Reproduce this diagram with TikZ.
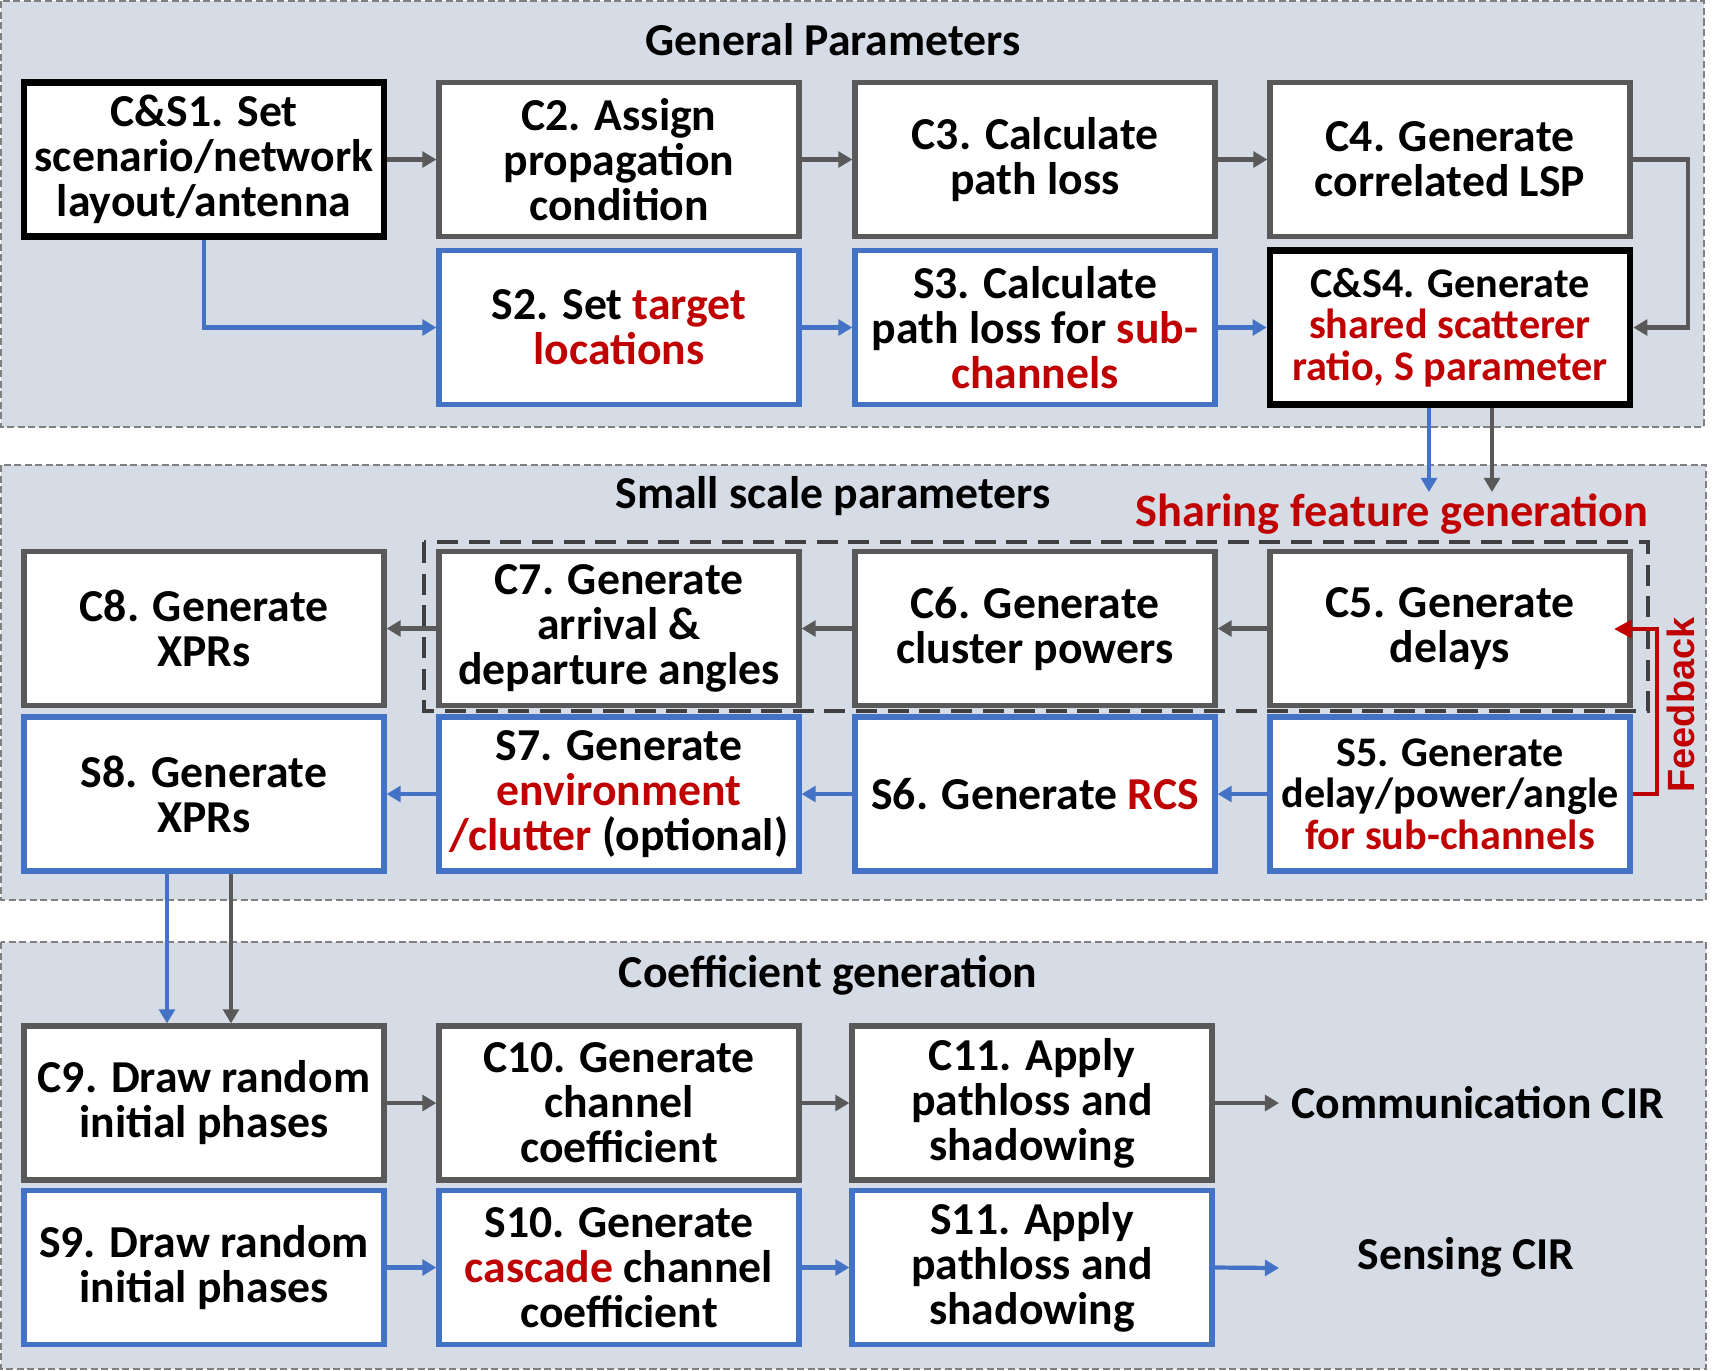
\documentclass[tikz,border=0pt]{standalone}
\usepackage{color}
\usepackage{amsmath,amssymb}
\usepackage{fontspec}
\setmainfont{Carlito}
\newfontfamily\fbfont{Liberation Sans}
\usepackage{tikz}
\usetikzlibrary{arrows.meta}

\definecolor{boxgray}{HTML}{595959}
\definecolor{boxblue}{HTML}{4472C4}
\definecolor{txtred}{HTML}{C00000}
\definecolor{panelfill}{HTML}{D6DCE5}
\definecolor{paneldash}{HTML}{808080}

\newcommand{\blockfont}{\fontsize{13}{12.8}\selectfont\bfseries}
\newcommand{\smallblockfont}{\fontsize{12}{11.8}\selectfont\bfseries}
\newcommand{\redtxt}[1]{\textcolor{txtred}{#1}}

\begin{document}
\begin{tikzpicture}[
  block/.style={draw, fill=white, line width=1.5pt, minimum width=3.60cm,
    minimum height=1.54cm, inner sep=0pt, align=center, font=\blockfont},
  cblock/.style={block, draw=boxgray},
  sblock/.style={block, draw=boxblue},
  csblock/.style={block, draw=black, line width=1.9pt},
  panel/.style={fill=panelfill, draw=paneldash, line width=0.6pt,
    dash pattern=on 2pt off 1pt},
  group/.style={draw=black!75, line width=0.9pt, dash pattern=on 6pt off 3pt},
  title/.style={font=\blockfont},
  garrow/.style={draw=boxgray, line width=1.2pt,
    -{Triangle[length=4pt,width=4.5pt]}},
  barrow/.style={draw=boxblue, line width=1.2pt,
    -{Triangle[length=4pt,width=4.5pt]}},
  vgarrow/.style={garrow, line width=0.9pt},
  vbarrow/.style={barrow, line width=0.9pt},
  rarrow/.style={draw=txtred, line width=1.2pt,
    -{Triangle[length=5pt,width=5pt]}}]
  \useasboundingbox
    (0,0)
    rectangle
    (17.26,-13.70);
  \filldraw[panel]
    (0.01,-0.01)
    rectangle
    (17.04,-4.27);
  \filldraw[panel]
    (0.01,-4.65)
    rectangle
    (17.06,-9.00);
  \filldraw[panel]
    (0.01,-9.42)
    rectangle
    (17.06,-13.69);
  \node[title] (gp) at (8.33,-0.40) {General Parameters};
  \node[title] (ssp) at (8.33,-4.96) {Small scale parameters};
  \node[title] (cg) at (8.28,-9.75) {Coefficient generation};
  \node[font=\fontsize{13.2}{14}\selectfont\bfseries, text=txtred] (share)
    at (13.92,-5.14) {Sharing feature generation};
  \node[csblock] (cs1) at (2.04,-1.595)
    {C\&S1. Set\\scenario/network\\layout/antenna};
  \node[cblock] (c2) at (6.19,-1.595) {C2. Assign\\propagation\\condition};
  \node[cblock] (c3) at (10.35,-1.595) {C3. Calculate\\path loss};
  \node[cblock] (c4) at (14.50,-1.595) {C4. Generate\\correlated LSP};
  \node[sblock] (s2) at (6.19,-3.275)
    {S2. Set \redtxt{target}\\\redtxt{locations}};
  \node[sblock] (s3) at (10.35,-3.275)
    {S3. Calculate\\path loss for \redtxt{sub-}\\\redtxt{channels}};
  \node[csblock, font=\smallblockfont] (cs4) at (14.50,-3.275)
    {C\&S4. Generate\\\redtxt{shared scatterer}\\\redtxt{ratio, S parameter}};
  \node[cblock] (c8) at (2.04,-6.285) {C8. Generate\\XPRs};
  \node[cblock] (c7) at (6.19,-6.285)
    {C7. Generate\\arrival \&\\departure angles};
  \node[cblock] (c6) at (10.35,-6.285) {C6. Generate\\cluster powers};
  \node[cblock] (c5) at (14.50,-6.285) {C5. Generate\\delays};
  \node[sblock] (s8) at (2.04,-7.94) {S8. Generate\\XPRs};
  \node[sblock] (s7) at (6.19,-7.94)
    {S7. Generate\\\redtxt{environment}\\\redtxt{/clutter} (optional)};
  \node[sblock] (s6) at (10.35,-7.94) {S6. Generate \redtxt{RCS}};
  \node[sblock, font=\smallblockfont] (s5) at (14.50,-7.94)
    {S5. Generate\\delay/power/angle\\\redtxt{for sub-channels}};
  \node[cblock] (c9) at (2.04,-11.03) {C9. Draw random\\initial phases};
  \node[cblock] (c10) at (6.19,-11.03) {C10. Generate\\channel\\coefficient};
  \node[cblock] (c11) at (10.32,-11.03) {C11. Apply\\pathloss and\\shadowing};
  \node[sblock] (s9) at (2.04,-12.675) {S9. Draw random\\initial phases};
  \node[sblock] (s10) at (6.19,-12.675)
    {S10. Generate\\\redtxt{cascade} channel\\coefficient};
  \node[sblock] (s11) at (10.32,-12.675) {S11. Apply\\pathloss and\\shadowing};
  \node[title, anchor=west] (comm) at (12.79,-11.03) {Communication CIR};
  \node[title] (sens) at (14.66,-12.57) {Sensing CIR};
  \node[font=\fbfont\fontsize{10.8}{12}\selectfont\bfseries, text=txtred,
    rotate=90] (fb) at (16.81,-7.05) {Feedback};
  \draw[group]
    (4.24,-5.42)
    rectangle
    (16.48,-7.11);
  \coordinate (cs4blue) at (14.29,-4.92);
  \coordinate (cs4gray) at (14.92,-4.92);
  \coordinate (fbtip) at (16.14,-6.29);
  \coordinate (sensend) at (12.79,-12.68);
  \draw[garrow] (cs1) -- (c2);
  \draw[garrow] (c2) -- (c3);
  \draw[garrow] (c3) -- (c4);
  \draw[garrow] (c4.east) -- ++(0.55,0) |- (cs4.east);
  \draw[barrow] (cs1.south) |- (s2.west);
  \draw[barrow] (s2) -- (s3);
  \draw[barrow] (s3) -- (cs4);
  \draw[vbarrow] (cs4.south -| cs4blue) -- (cs4blue);
  \draw[vgarrow] (cs4.south -| cs4gray) -- (cs4gray);
  \draw[garrow] (c5) -- (c6);
  \draw[garrow] (c6) -- (c7);
  \draw[garrow] (c7) -- (c8);
  \draw[barrow] (s5) -- (s6);
  \draw[barrow] (s6) -- (s7);
  \draw[barrow] (s7) -- (s8);
  \draw[rarrow] (s5.east) -- ++(0.24,0) |- (fbtip);
  \draw[vbarrow] ([xshift=-0.37cm]s8.south) -- ([xshift=-0.37cm]c9.north);
  \draw[vgarrow] ([xshift=0.27cm]s8.south) -- ([xshift=0.27cm]c9.north);
  \draw[garrow] (c9) -- (c10);
  \draw[garrow] (c10) -- (c11);
  \draw[garrow] (c11) -- (comm);
  \draw[barrow] (s9) -- (s10);
  \draw[barrow] (s10) -- (s11);
  \draw[barrow] (s11.east) -- (sensend);
\end{tikzpicture}
\end{document}
